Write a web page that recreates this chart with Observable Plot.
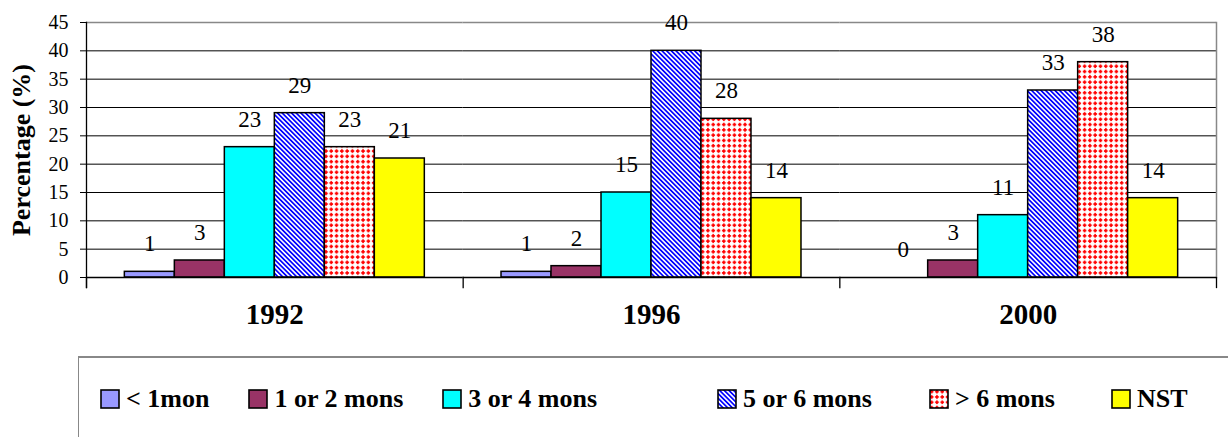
<!DOCTYPE html>
<html>
<head>
<meta charset="utf-8">
<script src="https://cdn.jsdelivr.net/npm/d3@7"></script>
<script src="https://cdn.jsdelivr.net/npm/@observablehq/plot@0.6"></script>
<style>
  html, body { margin: 0; padding: 0; background: #fff; }
  body { width: 1228px; height: 437px; position: relative; overflow: hidden; font-family: 'Liberation Serif', 'Times New Roman', serif; }
  #chart { position: absolute; left: 0; top: 0; }
  #chart svg { font-family: 'Liberation Serif', 'Times New Roman', serif !important; overflow: visible; }
  #legend { position: absolute; left: 78px; top: 356px; width: 1200px; height: 100px;
            border-top: 2px solid #888; border-left: 1px solid #888; box-sizing: border-box; }
  #legend .row { display: flex; align-items: center; height: 82px; padding-left: 21px; }
  #legend .item { display: flex; align-items: center; }
  #legend .item span { font-family: 'Liberation Serif', 'Times New Roman', serif; font-weight: bold; font-size: 26px; margin-left: 6px; white-space: pre; }
  #legend svg { display: block; }
</style>
</head>
<body>
<svg width="0" height="0" style="position:absolute">
  <defs>
    <pattern id="hatch" width="3.3" height="3.3" patternUnits="userSpaceOnUse" patternTransform="rotate(-45)">
      <rect width="3.3" height="3.3" fill="#fff"></rect>
      <rect width="1.7" height="3.3" fill="#0000ff"></rect>
    </pattern>
    <pattern id="dots" width="5.3" height="5.3" patternUnits="userSpaceOnUse">
      <rect width="5.3" height="5.3" fill="#fff"></rect>
      <circle cx="2.65" cy="2.65" r="1.4" fill="#ff0000"></circle>
      <rect x="1.9" y="0.8" width="1.5" height="3.7" fill="#ff0000"></rect>
      <rect x="0.8" y="1.9" width="3.7" height="1.5" fill="#ff0000"></rect>
    </pattern>
  </defs>
</svg>
<div id="chart"></div>
<div id="legend"><div class="row"></div></div>
<script>
// ---- data ----
const years = ["1992", "1996", "2000"];
const categories = ["< 1mon", "1 or 2 mons", "3 or 4 mons", "5 or 6 mons", "> 6 mons", "NST"];
const values1992 = [1, 3, 23, 29, 23, 21];
const values1996 = [1, 2, 15, 40, 28, 14];
const values2000 = [0, 3, 11, 33, 38, 14];
const fills = ["#9999FF", "#993366", "#00FFFF", "url(#hatch)", "url(#dots)", "#FFFF00"];
const yTicks = [0, 5, 10, 15, 20, 25, 30, 35, 40, 45];
const yLabel = "Percentage (%)";
const legendGaps = [39, 39, 120, 57, 56, 0];

const seriesByYear = {"1992": values1992, "1996": values1996, "2000": values2000};
const table = years.flatMap(y => categories.map((c, i) => ({year: y, cat: c, value: seriesByYear[y][i]})));

// ---- layout ----
const W = 1228, H = 350, mT = 22, mB = 73, mL = 86, mR = 12;
const frameH = H - mT - mB;
const font = "'Liberation Serif', 'Times New Roman', serif";

const chart = Plot.plot({
  width: W, height: H,
  marginTop: mT, marginBottom: mB, marginLeft: mL, marginRight: mR,
  style: {fontFamily: font, background: "#fff", color: "#000", overflow: "visible"},
  fx: {domain: years, padding: 0, axis: null, round: false},
  x: {domain: categories, paddingInner: 0, paddingOuter: 0.767, axis: null, round: false},
  y: {domain: [0, 45], axis: null},
  color: {domain: categories, range: fills},
  marks: [
    Plot.ruleY(yTicks.filter(d => d > 0 && d < 45), {stroke: "#000", strokeWidth: 1}),
    Plot.ruleY([45], {stroke: "#888", strokeWidth: 1.5}),
    Plot.frame({anchor: "right", facetAnchor: "right", stroke: "#888", strokeWidth: 1.5}),
    Plot.barY(table, {fx: "year", x: "cat", y: "value", fill: "cat", stroke: "#000", strokeWidth: 1.5}),
    Plot.ruleY([0], {stroke: "#000", strokeWidth: 1.3}),
    Plot.frame({anchor: "left", facetAnchor: "left", insetBottom: -10, stroke: "#000", strokeWidth: 1.3}),
    Plot.frame({anchor: "left", insetTop: frameH, insetBottom: -10, stroke: "#000", strokeWidth: 1.3}),
    Plot.frame({anchor: "right", facetAnchor: "right", insetTop: frameH, insetBottom: -10, stroke: "#000", strokeWidth: 1.3}),
    Plot.text(table, {fx: "year", x: "cat", y: "value", text: d => String(d.value), dy: -28, fontSize: 23, fontFamily: font, fill: "#000"}),
    Plot.text(years, {fx: d => d, text: d => d, frameAnchor: "bottom", dy: 46, fontSize: 29, fontWeight: "bold", fontFamily: font, fill: "#000"}),
    Plot.axisY({ticks: yTicks, tickSize: 6, tickPadding: 12, fontSize: 20, fontFamily: font, label: null, tickFormat: d => String(d)}),
    Plot.text([yLabel], {frameAnchor: "left", facetAnchor: "left", textAnchor: "middle", dx: -65, rotate: -90, fontSize: 26, fontWeight: "bold", fontFamily: font, fill: "#000"})
  ]
});
document.getElementById("chart").appendChild(chart);

// ---- legend ----
const row = document.querySelector("#legend .row");
categories.forEach((c, i) => {
  const item = document.createElement("div");
  item.className = "item";
  item.style.marginRight = legendGaps[i] + "px";
  item.innerHTML = `<svg width="20" height="20"><rect x="1" y="1" width="18" height="18" fill="${fills[i]}" stroke="#000" stroke-width="1.6"></rect></svg><span></span>`;
  item.querySelector("span").textContent = c;
  row.appendChild(item);
});
</script>
</body>
</html>
